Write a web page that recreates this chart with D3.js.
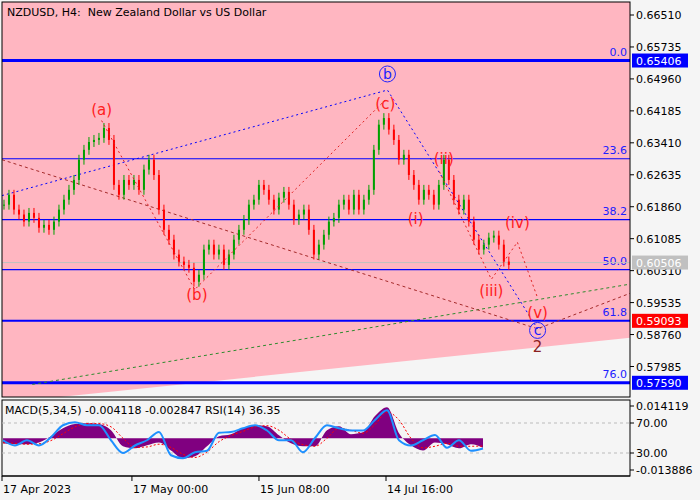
<!DOCTYPE html>
<html><head><meta charset="utf-8">
<script src="https://cdn.jsdelivr.net/npm/d3@7"></script>
<style>body{margin:0;background:#f5f5f5}svg{display:block;font-family:"DejaVu Sans",sans-serif}text{white-space:pre}</style>
</head><body><svg id="c" width="700" height="500"></svg>
<script>
// closes every 27.7h from 17 Apr 2023
const closes = [0.6191,0.6215,0.6179,0.6167,0.6150,0.6171,0.6159,0.6135,0.6142,0.6130,0.6150,0.6179,0.6203,0.6227,0.6251,0.6300,0.6324,0.6343,0.6348,0.6353,0.6377,0.6348,0.6239,0.6215,0.6251,0.6239,0.6251,0.6227,0.6276,0.6300,0.6263,0.6179,0.6130,0.6106,0.6070,0.6053,0.6045,0.6038,0.6004,0.6021,0.6082,0.6094,0.6070,0.6082,0.6045,0.6070,0.6106,0.6130,0.6154,0.6191,0.6203,0.6239,0.6227,0.6203,0.6179,0.6208,0.6222,0.6191,0.6154,0.6167,0.6179,0.6130,0.6070,0.6094,0.6118,0.6150,0.6159,0.6191,0.6203,0.6179,0.6215,0.6179,0.6203,0.6227,0.6324,0.6385,0.6401,0.6373,0.6348,0.6300,0.6312,0.6263,0.6239,0.6203,0.6227,0.6215,0.6191,0.6239,0.6300,0.6251,0.6203,0.6179,0.6203,0.6150,0.6106,0.6082,0.6094,0.6111,0.6116,0.6094,0.6053,0.6045];
// MACD / RSI every 66.5h
const hist = [-0.0022,-0.0026,-0.0026,-0.0018,0.0009,0.0044,0.0062,0.0066,0.0062,0.0035,-0.0035,-0.0044,-0.0031,-0.0018,-0.0053,-0.0088,-0.0079,-0.0035,0.0009,0.0018,0.0044,0.0057,0.0053,0.0013,-0.0022,-0.0035,-0.0035,0.0035,0.0053,0.0018,0.0026,0.0097,0.0136,0.0022,-0.0031,-0.0053,-0.0018,-0.0026,-0.0044,-0.0026,-0.0041];
const signal = [-0.0020,-0.0022,-0.0026,-0.0024,-0.0010,0.0020,0.0050,0.0064,0.0064,0.0050,0.0000,-0.0040,-0.0038,-0.0026,-0.0040,-0.0070,-0.0084,-0.0060,-0.0015,0.0012,0.0030,0.0050,0.0055,0.0035,-0.0005,-0.0028,-0.0035,0.0000,0.0044,0.0035,0.0022,0.0060,0.0115,0.0080,0.0000,-0.0042,-0.0035,-0.0022,-0.0035,-0.0035,-0.0034];
const rsi = [47,40,47,40,51,67,71,67,67,47,30,40,47,58,27,23,31,33,57,58,63,67,60,47,47,31,50,67,63,60,60,74,87,47,40,47,54,37,47,33,36];
const priceTicks = [0.66510,0.65735,0.64960,0.64185,0.63410,0.62635,0.61860,0.61085,0.60310,0.59535,0.58760,0.57985];
const fibLevels = ["0.0","23.6","38.2","50.0","61.8","76.0"];
const fibPrices = [0.65406,0.63023,0.61545,0.60334,0.59093,0.57590];
const tags = [{p:0.65406,t:"0.65406",c:"#0000ff"},{p:0.60506,t:"0.60506",c:"#c0c0c0"},{p:0.59093,t:"0.59093",c:"#ff0000"},{p:0.57590,t:"0.57590",c:"#0000ff"}];
const dateTicks = [["17 Apr 2023","2023-04-17T00:00"],["17 May 00:00","2023-05-17T00:00"],["15 Jun 08:00","2023-06-15T08:00"],["14 Jul 16:00","2023-07-14T16:00"]];
// wave points [date, price]
const waveRed1 = [["2023-05-10T00:00",0.6395],["2023-05-31T12:00",0.5985],["2023-07-14T12:00",0.6445]];
const waveRed2 = [["2023-07-27T00:00",0.6271],["2023-08-08T00:00",0.6010],["2023-08-14T00:00",0.6100],["2023-08-18T16:00",0.5965]];
const waveBlue = [["2023-04-17T00:00",0.6213],["2023-07-15T00:00",0.6469],["2023-08-18T16:00",0.5890]];
const waveBrown = [["2023-04-17T00:00",0.6300],["2023-08-18T16:00",0.5890],["2023-09-10T00:00",0.5980]];
const waveGreen = [["2023-04-24T00:00",0.5755],["2023-09-10T00:00",0.6000]];
const labels = [["(a)","2023-05-10T00:00",0.6409,"#ff2020"],["(b)","2023-06-01T00:00",0.5960,"#ff2020"],["(c)","2023-07-14T12:00",0.6423,"#ff2020"],["(i)","2023-07-21T12:00",0.6145,"#ff2020"],["(ii)","2023-07-28T00:00",0.6290,"#ff2020"],["(iii)","2023-08-08T00:00",0.5970,"#ff2020"],["(iv)","2023-08-14T00:00",0.6135,"#ff2020"],["(v)","2023-08-18T16:00",0.5915,"#ff2020"],["2","2023-08-18T16:00",0.5833,"#8b2020"]];
const circled = [["b","2023-07-15T00:00",0.6508],["c","2023-08-18T16:00",0.5886]];

const svg = d3.select("#c");
const P = new Date("2023-04-17T00:00");
const x = d3.scaleTime().domain([P, new Date("2023-07-14T16:00")]).range([2, 386]);
const y = d3.scaleLinear().domain([0.57985, 0.66510]).range([366.5, 15]);
const H = 3600e3;
const dOf = s => new Date(s);

svg.append("clipPath").attr("id","mc").append("rect").attr("x",2).attr("y",2).attr("width",628).attr("height",395);
const g = svg.append("g").attr("clip-path","url(#mc)");
g.append("rect").attr("x",2).attr("y",2).attr("width",628).attr("height",395).attr("fill","#f5f5f5");
g.append("path").attr("fill","#ffb6c1")
  .attr("d",`M2,0L630,0L630,${y(0.5868)}L2,${y(0.5710)}Z`);

// fib lines
fibPrices.forEach((p,i)=>{
  const w = (i==0||i==5)?3:(i==4?2:1.2);
  g.append("line").attr("x1",2).attr("x2",630).attr("y1",y(p)).attr("y2",y(p)).attr("stroke","#0000ff").attr("stroke-width",w);
  g.append("text").attr("x",627).attr("y",y(p)-5).attr("text-anchor","end").attr("fill","#2020ff").attr("font-size",11).text(fibLevels[i]);
});
g.append("line").attr("x1",2).attr("x2",630).attr("y1",y(0.60506)).attr("y2",y(0.60506)).attr("stroke","#c0c0c0");

const line = d3.line().x(d=>x(dOf(d[0]))).y(d=>y(d[1]));
g.append("path").attr("d",line(waveGreen)).attr("fill","none").attr("stroke","#2e8b2e").attr("stroke-dasharray","3,3");
g.append("path").attr("d",line(waveBrown)).attr("fill","none").attr("stroke","#a52a2a").attr("stroke-dasharray","3,3");
g.append("path").attr("d",line(waveBlue)).attr("fill","none").attr("stroke","#0000ff").attr("stroke-dasharray","2,3");

// candles
const step = 27.7*H, t0 = 11*H;
const cx = i => x(new Date(+P + t0 + i*step));
const cg = g.append("g");
closes.forEach((c,i)=>{
  const o = i ? closes[i-1] : c;
  const col = c>=o ? "#00a000" : "#ff0000";
  const hi = Math.max(o,c)+0.0012, lo = Math.min(o,c)-0.0012;
  cg.append("line").attr("x1",cx(i)).attr("x2",cx(i)).attr("y1",y(hi)).attr("y2",y(lo)).attr("stroke",col);
  cg.append("rect").attr("x",cx(i)-1).attr("width",2).attr("y",y(Math.max(o,c))).attr("height",Math.max(1,Math.abs(y(o)-y(c)))).attr("fill",col);
});

g.append("path").attr("d",line(waveRed1)).attr("fill","none").attr("stroke","#e02020").attr("stroke-dasharray","2,3");
g.append("path").attr("d",line(waveRed2)).attr("fill","none").attr("stroke","#e02020").attr("stroke-dasharray","2,3");

labels.forEach(l=>g.append("text").attr("x",x(dOf(l[1]))).attr("y",y(l[2])).attr("text-anchor","middle")
  .attr("fill",l[3]).attr("font-size",15).text(l[0]));
circled.forEach(l=>{
  const X=x(dOf(l[1])), Y=y(l[2]);
  g.append("circle").attr("cx",X).attr("cy",Y).attr("r",8).attr("fill","none").attr("stroke","#2020ff");
  g.append("text").attr("x",X).attr("y",Y+5).attr("text-anchor","middle").attr("fill","#2020ff").attr("font-size",14).text(l[0]);
});
g.append("text").attr("x",7).attr("y",16).attr("font-size",11).text("NZDUSD, H4:  New Zealand Dollar vs US Dollar");
svg.append("rect").attr("x",2).attr("y",2).attr("width",628).attr("height",395).attr("fill","none").attr("stroke","#000");

// price axis
priceTicks.forEach(p=>{
  svg.append("line").attr("x1",630).attr("x2",634).attr("y1",y(p)).attr("y2",y(p)).attr("stroke","#000");
  svg.append("text").attr("x",636).attr("y",y(p)+4).attr("font-size",11).text(p.toFixed(5));
});
tags.forEach(t=>{
  svg.append("rect").attr("x",632).attr("y",y(t.p)-7).attr("width",56).attr("height",14).attr("fill",t.c);
  svg.append("text").attr("x",636).attr("y",y(t.p)+4).attr("font-size",11).attr("fill","#fff").text(t.t);
});

// MACD / RSI panel
const ym = d3.scaleLinear().domain([-0.013886,0.014119]).range([470,406]);
const yr = d3.scaleLinear().domain([30,70]).range([453,423]);
const mstep = 66.5*H, m0 = 5.5*H;
const mx = i => x(new Date(+P + m0 + i*mstep));
const sp = svg.append("g");
sp.append("rect").attr("x",2).attr("y",400).attr("width",628).attr("height",76).attr("fill","#f5f5f5").attr("stroke","#000");
[70,30].forEach(v=>sp.append("line").attr("x1",2).attr("x2",630).attr("y1",yr(v)).attr("y2",yr(v)).attr("stroke","#bbb").attr("stroke-dasharray","3,3"));
sp.append("path").attr("fill","#800080").attr("d",d3.area().x((d,i)=>mx(i)).y0(ym(0)).y1(d=>ym(d)).curve(d3.curveMonotoneX)(hist));
sp.append("path").attr("fill","none").attr("stroke","#ff0000").attr("stroke-dasharray","2,2").attr("d",d3.line().x((d,i)=>mx(i)).y(d=>ym(d)).curve(d3.curveMonotoneX)(signal));
sp.append("path").attr("fill","none").attr("stroke","#1e90ff").attr("stroke-width",2).attr("d",d3.line().x((d,i)=>mx(i)).y(d=>yr(d)).curve(d3.curveMonotoneX)(rsi));
sp.append("text").attr("x",5).attr("y",414).attr("font-size",11).text("MACD(5,34,5) -0.004118 -0.002847 RSI(14) 36.35");
[[ym(0.014119),"0.014119"],[yr(70),"70.00"],[yr(30),"30.00"],[ym(-0.013886),"-0.013886"]].forEach(d=>{
  svg.append("line").attr("x1",630).attr("x2",634).attr("y1",d[0]).attr("y2",d[0]).attr("stroke","#000");
  svg.append("text").attr("x",636).attr("y",d[0]+4).attr("font-size",11).text(d[1]);
});

// time axis
svg.append("line").attr("x1",2).attr("x2",630).attr("y1",476).attr("y2",476).attr("stroke","#000");
dateTicks.forEach(d=>{
  const X = x(dOf(d[1]));
  svg.append("line").attr("x1",X).attr("x2",X).attr("y1",476).attr("y2",481).attr("stroke","#000");
  svg.append("text").attr("x",X+1).attr("y",493).attr("font-size",11).text(d[0]);
});
</script></body></html>
